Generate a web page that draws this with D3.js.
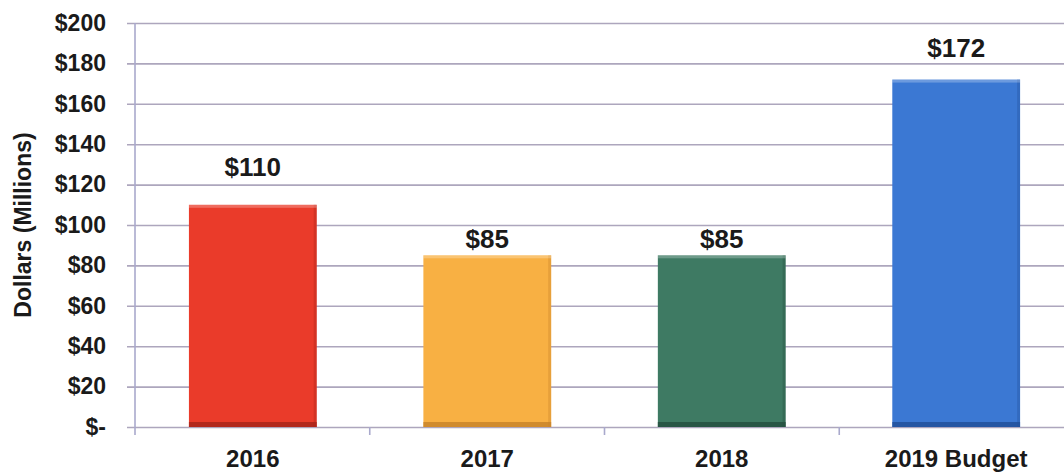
<!DOCTYPE html>
<html>
<head>
<meta charset="utf-8">
<script src="https://cdn.jsdelivr.net/npm/d3@7"></script>
<style>
  body { margin: 0; background: #fff; }
  text { font-family: "Liberation Sans", Arial, sans-serif; font-weight: bold; fill: #1a1a1a; }
</style>
</head>
<body>
<div id="chart"></div>
<script>
var width = 1064, height = 473;

// data
var years = ["2016", "2017", "2018", "2019 Budget"];
var dollars = [110, 85, 85, 172];
var barColors = ["#ea3b2a", "#f8b043", "#3e7a63", "#3b78d3"];
var edgeColors = ["#a8261a", "#c9852a", "#24503f", "#22509a"];
var yTicks = [0, 20, 40, 60, 80, 100, 120, 140, 160, 180, 200];

// label nudges (px above bar top), as placed in the original
var labelLift = [29, 7, 7, 23];

var margin = {top: 23, right: -10, bottom: 46, left: 135};

var svg = d3.select("#chart")
  .append("svg")
  .attr("width", width)
  .attr("height", height)
  .style("display", "block");

var xScale = d3.scaleBand()
    .domain(years)
    .range([margin.left, width - margin.right])
    .paddingInner(0.455)
    .paddingOuter(0.23);

var yScale = d3.scaleLinear()
    .domain([0, 200])
    .range([height - margin.bottom, margin.top]);

var gridColor = "#ada6bd";
var axisColor = "#a9a9cc";

// horizontal grid + y axis labels
svg.append("g")
  .attr("transform", "translate(" + margin.left + ",0)")
  .call(d3.axisLeft(yScale)
    .tickValues(yTicks)
    .tickSize(-(width - margin.left + 20))
    .tickPadding(29)
    .tickFormat(function(d){ return d == 0 ? "$-" : "$" + d; }))
  .call(g => g.select(".domain").remove())
  .call(g => g.selectAll(".tick line")
      .attr("x1", -8)
      .attr("stroke", gridColor)
      .attr("stroke-width", 1.6))
  .call(g => g.selectAll(".tick text")
      .style("font-size", "23px")
      .attr("fill", "#1a1a1a"));

// vertical axis line
svg.append("line")
  .attr("x1", margin.left).attr("x2", margin.left)
  .attr("y1", yScale(200)).attr("y2", yScale(0))
  .attr("stroke", axisColor)
  .attr("stroke-width", 1.6);

// category boundary ticks
var slot = (width - margin.right - margin.left) / years.length;
svg.append("g")
  .selectAll("line")
  .data(d3.range(years.length))
  .enter()
  .append("line")
  .attr("x1", i => margin.left + i * slot)
  .attr("x2", i => margin.left + i * slot)
  .attr("y1", yScale(0))
  .attr("y2", yScale(0) + 8)
  .attr("stroke", axisColor)
  .attr("stroke-width", 1.6);

// bars
var bars = svg.append("g")
  .selectAll("g")
  .data(years)
  .enter()
  .append("g");

bars.append("rect")
  .attr("x", d => xScale(d))
  .attr("y", (d, i) => yScale(dollars[i]))
  .attr("width", xScale.bandwidth())
  .attr("height", (d, i) => yScale(0) - yScale(dollars[i]))
  .style("fill", (d, i) => barColors[i]);

// bevel: darker bottom and right edge, light top
bars.append("rect")
  .attr("x", d => xScale(d))
  .attr("y", yScale(0) - 5)
  .attr("width", xScale.bandwidth())
  .attr("height", 5)
  .style("fill", (d, i) => edgeColors[i])
  .style("opacity", 0.85);

bars.append("rect")
  .attr("x", d => xScale(d) + xScale.bandwidth() - 3)
  .attr("y", (d, i) => yScale(dollars[i]))
  .attr("width", 3)
  .attr("height", (d, i) => yScale(0) - yScale(dollars[i]))
  .style("fill", (d, i) => edgeColors[i])
  .style("opacity", 0.35);

bars.append("rect")
  .attr("x", d => xScale(d))
  .attr("y", (d, i) => yScale(dollars[i]))
  .attr("width", xScale.bandwidth())
  .attr("height", 3)
  .style("fill", "#fff")
  .style("opacity", 0.25);

// value labels
bars.append("text")
  .attr("x", d => xScale(d) + xScale.bandwidth() / 2)
  .attr("y", (d, i) => yScale(dollars[i]) - labelLift[i])
  .attr("text-anchor", "middle")
  .style("font-size", "26px")
  .text((d, i) => "$" + dollars[i]);

// category labels
bars.append("text")
  .attr("x", d => xScale(d) + xScale.bandwidth() / 2)
  .attr("y", yScale(0) + 40)
  .attr("text-anchor", "middle")
  .style("font-size", "24px")
  .text(d => d);

// y axis title
svg.append("text")
  .attr("transform", "translate(31," + yScale(100) + ") rotate(-90)")
  .attr("text-anchor", "middle")
  .style("font-size", "23px")
  .text("Dollars (Millions)");
</script>
</body>
</html>
